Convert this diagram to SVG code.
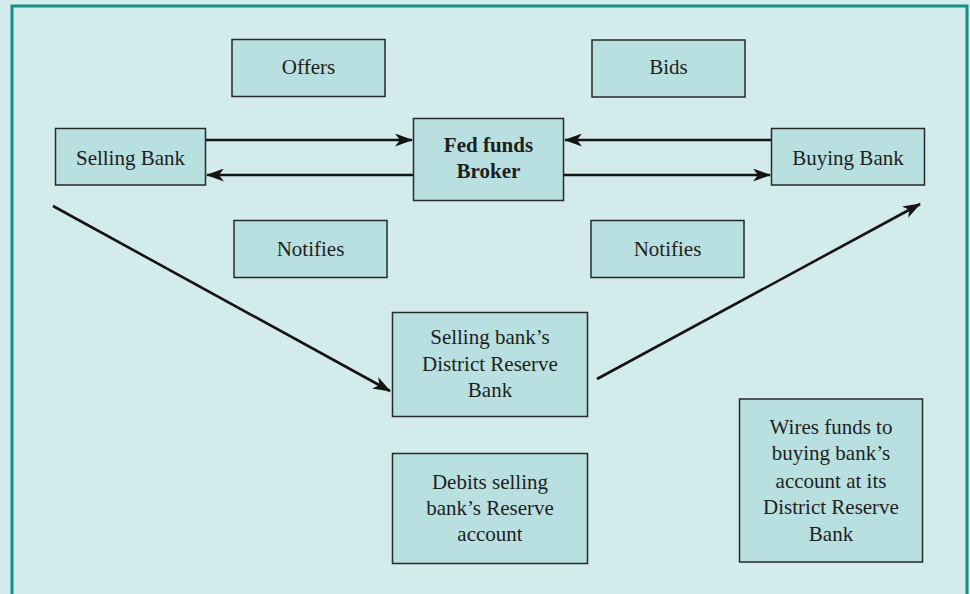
<svg xmlns="http://www.w3.org/2000/svg" width="970" height="594" viewBox="0 0 970 594">
<defs>
<style>
.box{fill:#b9e0e0;stroke:#262a2a;stroke-width:1.5}
.t{font-family:"Liberation Serif","DejaVu Serif",serif;font-size:21px;fill:#1e1e1e;text-anchor:middle}
.b{font-weight:bold}
.c{stroke:#141414;stroke-width:2.6;fill:none;marker-end:url(#ah)}
</style>
<marker id="ah" viewBox="0 0 18 13" refX="17" refY="6.5" markerWidth="18" markerHeight="13" markerUnits="userSpaceOnUse" orient="auto">
<path d="M0,0 L18,6.5 L0,13 L5,6.5 Z" fill="#141414"/>
</marker>
</defs>
<rect x="0" y="0" width="970" height="594" fill="#d3ebea"/>
<path d="M12,600 V6 H967 V600" fill="none" stroke="#12908a" stroke-width="3"/>
<g id="connectors">
<line class="c" x1="206" y1="140" x2="412" y2="140"/>
<line class="c" x1="413" y1="175" x2="207" y2="175"/>
<line class="c" x1="771" y1="140" x2="565" y2="140"/>
<line class="c" x1="564" y1="175" x2="770" y2="175"/>
<line class="c" x1="53" y1="206" x2="390" y2="391"/>
<line class="c" x1="597" y1="379" x2="920" y2="204"/>
</g>
<g id="offers"><rect class="box" x="232" y="39.5" width="153" height="57"/><text class="t" x="308.5" y="74">Offers</text></g>
<g id="bids"><rect class="box" x="592" y="40" width="153" height="57"/><text class="t" x="668.5" y="74">Bids</text></g>
<g id="selling-bank"><rect class="box" x="55.5" y="128.5" width="150" height="56.5"/><text class="t" x="130.5" y="164.5">Selling Bank</text></g>
<g id="broker"><rect class="box" x="413.5" y="118.5" width="150" height="82"/><text class="t b" x="488.5" y="152">Fed funds</text><text class="t b" x="488.5" y="178">Broker</text></g>
<g id="buying-bank"><rect class="box" x="771.5" y="128.5" width="153" height="56.5"/><text class="t" x="848" y="164.5">Buying Bank</text></g>
<g id="notifies-left"><rect class="box" x="234" y="220.5" width="153" height="57"/><text class="t" x="310.5" y="255.5">Notifies</text></g>
<g id="notifies-right"><rect class="box" x="591" y="220.5" width="153" height="57"/><text class="t" x="667.5" y="255.5">Notifies</text></g>
<g id="district-reserve"><rect class="box" x="392.5" y="312.5" width="195" height="104"/><text class="t" x="490" y="344">Selling bank’s</text><text class="t" x="490" y="370.5">District Reserve</text><text class="t" x="490" y="397">Bank</text></g>
<g id="debits"><rect class="box" x="392.5" y="453.5" width="195" height="110"/><text class="t" x="490" y="488.5">Debits selling</text><text class="t" x="490" y="515">bank’s Reserve</text><text class="t" x="490" y="541">account</text></g>
<g id="wires"><rect class="box" x="739.5" y="399" width="183" height="163"/><text class="t" x="831" y="433.5">Wires funds to</text><text class="t" x="831" y="460">buying bank’s</text><text class="t" x="831" y="487.5">account at its</text><text class="t" x="831" y="514">District Reserve</text><text class="t" x="831" y="540.5">Bank</text></g>
</svg>
